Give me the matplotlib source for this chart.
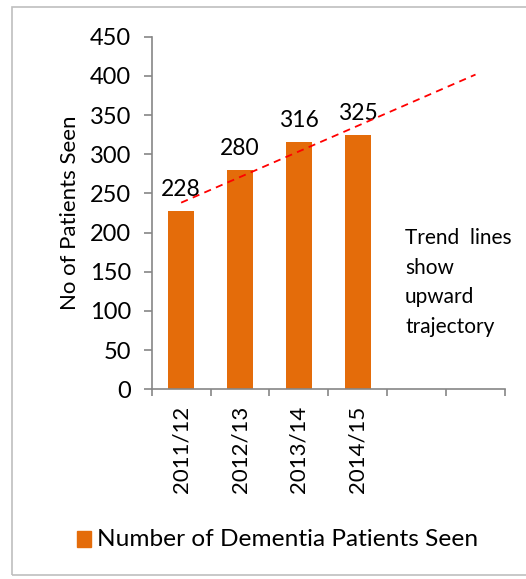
import matplotlib.pyplot as plt
import numpy as np
from matplotlib.patches import Rectangle

plt.rcParams['font.family'] = ['Lato', 'DejaVu Sans']

# data
years = ["2011/12", "2012/13", "2013/14", "2014/15", "", ""]
patients = [228, 280, 316, 325]
forecast_periods = 2

bar_color = "#E46C0A"
axis_gray = "#868686"

fig = plt.figure(figsize=(5.26, 5.79), dpi=100)
ax = fig.add_axes([0.2884, 0.3276, 0.6716, 0.609])

x = np.arange(len(patients))
ax.bar(x, patients, width=0.435, color=bar_color, zorder=2)

# data labels above bars
for xi, v in zip(x, patients):
    ax.annotate(str(v), (xi, v), xytext=(0, 8), textcoords="offset points",
                ha="center", va="bottom", fontsize=16.5)

# linear trend line, forecast forward 2 periods
slope, intercept = np.polyfit(x, patients, 1)
xt = np.array([0, len(patients) - 1 + forecast_periods])
ax.plot(xt, slope * xt + intercept, color="#FF0000", linestyle=(0, (4, 3)), lw=1.3, zorder=3)

ax.set_xlim(-0.5, len(years) - 0.5)
ax.set_ylim(0, 450)
ax.set_yticks(range(0, 451, 50))
ax.set_xticks(np.arange(len(years)))
ax.set_xticklabels(years, rotation=90)
ax.set_xticks(np.arange(len(years) + 1) - 0.5, minor=True)
ax.tick_params(axis="x", which="major", length=0, pad=12, labelsize=16)
ax.tick_params(axis="x", which="minor", length=5, color=axis_gray, width=1.2)
ax.tick_params(axis="y", length=6, color=axis_gray, width=1.2, pad=9, labelsize=17)

for s in ["top", "right"]:
    ax.spines[s].set_visible(False)
for s in ["left", "bottom"]:
    ax.spines[s].set_color(axis_gray)
    ax.spines[s].set_linewidth(1.2)

ax.set_ylabel("No of Patients Seen", fontsize=16, labelpad=7)

fig.text(0.77, 1 - 228 / 579, "Trend  lines\nshow\nupward\ntrajectory", fontsize=15,
         ha="left", va="top", linespacing=1.6)

# legend
fig.patches.append(Rectangle((77 / 526, 1 - 547 / 579), 14 / 526, 16 / 579,
                             transform=fig.transFigure, color=bar_color))
fig.text(97 / 526, 1 - 540 / 579, "Number of Dementia Patients Seen",
         fontsize=17.6, va="center", ha="left")

# chart border
fig.patches.append(Rectangle((12 / 526, 4 / 579), 1.1, 1 - 11 / 579,
                             transform=fig.transFigure, fill=False,
                             edgecolor="#BFBFBF", lw=1.2))

fig.savefig("out.png", dpi=100)
